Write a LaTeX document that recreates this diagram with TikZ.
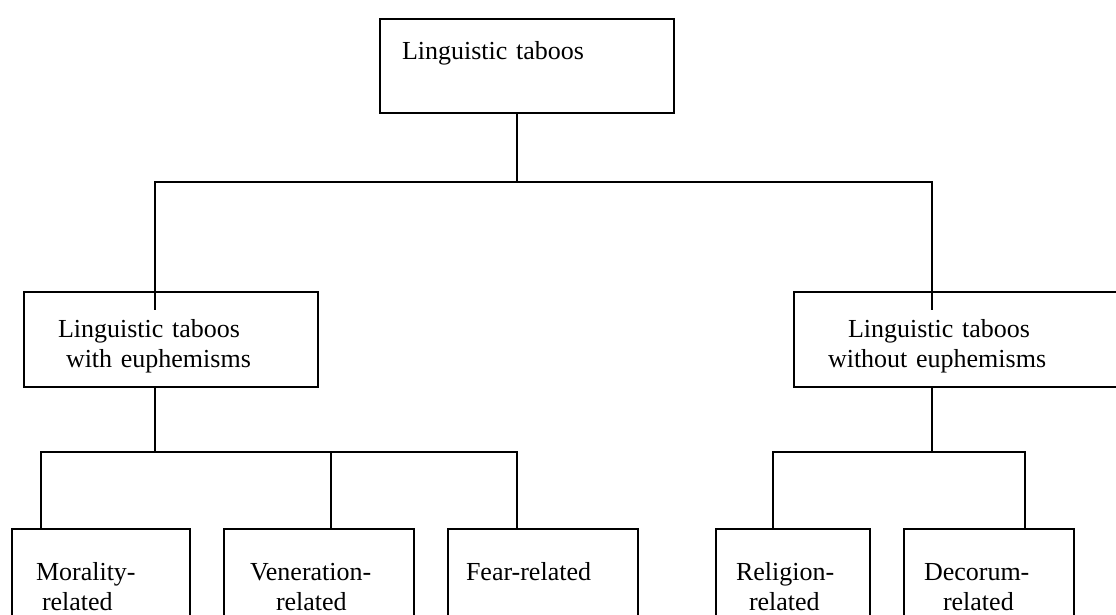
\documentclass[tikz,border=0pt]{standalone}
\usepackage{fontspec}
\setmainfont{Liberation Serif}
\usetikzlibrary{positioning}

\begin{document}
\begin{tikzpicture}[
    x=0.5pt, y=-0.5pt,
    tbox/.style={rectangle, draw, line width=1pt, anchor=north west, align=left,
                 inner ysep=0pt, font=\fontsize{13}{15}\selectfont},
    upper/.style={text height=22.5pt, text depth=25pt},
    lower/.style={text height=26pt, text depth=40pt},
    link/.style={line width=1pt},
  ]
  \useasboundingbox (0,0) rectangle (1116,615);
  \clip (0,0) rectangle (1116,615);

  % top level
  \node[tbox, text width=125pt, inner xsep=11pt,
        text height=20.5pt, text depth=26.5pt] (taboos) at (379,18) {Linguistic taboos};

  % second level
  \node[tbox, upper, text width=113pt, inner xsep=17pt] (with) at (23,291)
    {Linguistic taboos\\ \hspace*{4pt}with euphemisms};
  \node[tbox, upper, text width=136pt, inner xsep=17pt] (without) at (793,291)
    {\hspace*{10pt}Linguistic taboos\\without euphemisms};

  % third level
  \node[tbox, lower, text width=65pt, inner xsep=12pt] (morality) at (11,528)
    {Morality-\\ \hspace*{3pt}related};
  \node[tbox, lower, text width=69pt, inner xsep=13pt,
        right=16pt of morality.north east, anchor=north west] (veneration)
    {Veneration-\\ \hspace*{13pt}related};
  \node[tbox, lower, text width=77pt, inner xsep=9pt,
        right=16pt of veneration.north east, anchor=north west] (fear) {Fear-related};
  \node[tbox, lower, text width=57pt, inner xsep=10pt,
        right=38pt of fear.north east, anchor=north west] (religion)
    {Religion-\\ \hspace*{6.5pt}related};
  \node[tbox, lower, text width=65pt, inner xsep=10pt,
        right=16pt of religion.north east, anchor=north west] (decorum)
    {Decorum-\\ \hspace*{9.5pt}related};

  % connectors
  \draw[link] (taboos.south -| 517,0) |- (155,182) -- (with.north -| 155,0) -- ++(0,19);
  \draw[link] (taboos.south -| 517,0) |- (932,182) -- (without.north -| 932,0) -- ++(0,19);

  \draw[link] (with.south -| 155,0) |- (41,452) -- (morality.north -| 41,0);
  \draw[link] (with.south -| 155,0) |- (331,452) -- (veneration.north -| 331,0);
  \draw[link] (with.south -| 155,0) |- (517,452) -- (fear.north -| 517,0);

  \draw[link] (without.south -| 932,0) |- (773,452) -- (religion.north -| 773,0);
  \draw[link] (without.south -| 932,0) |- (1025,452) -- (decorum.north -| 1025,0);
\end{tikzpicture}
\end{document}
